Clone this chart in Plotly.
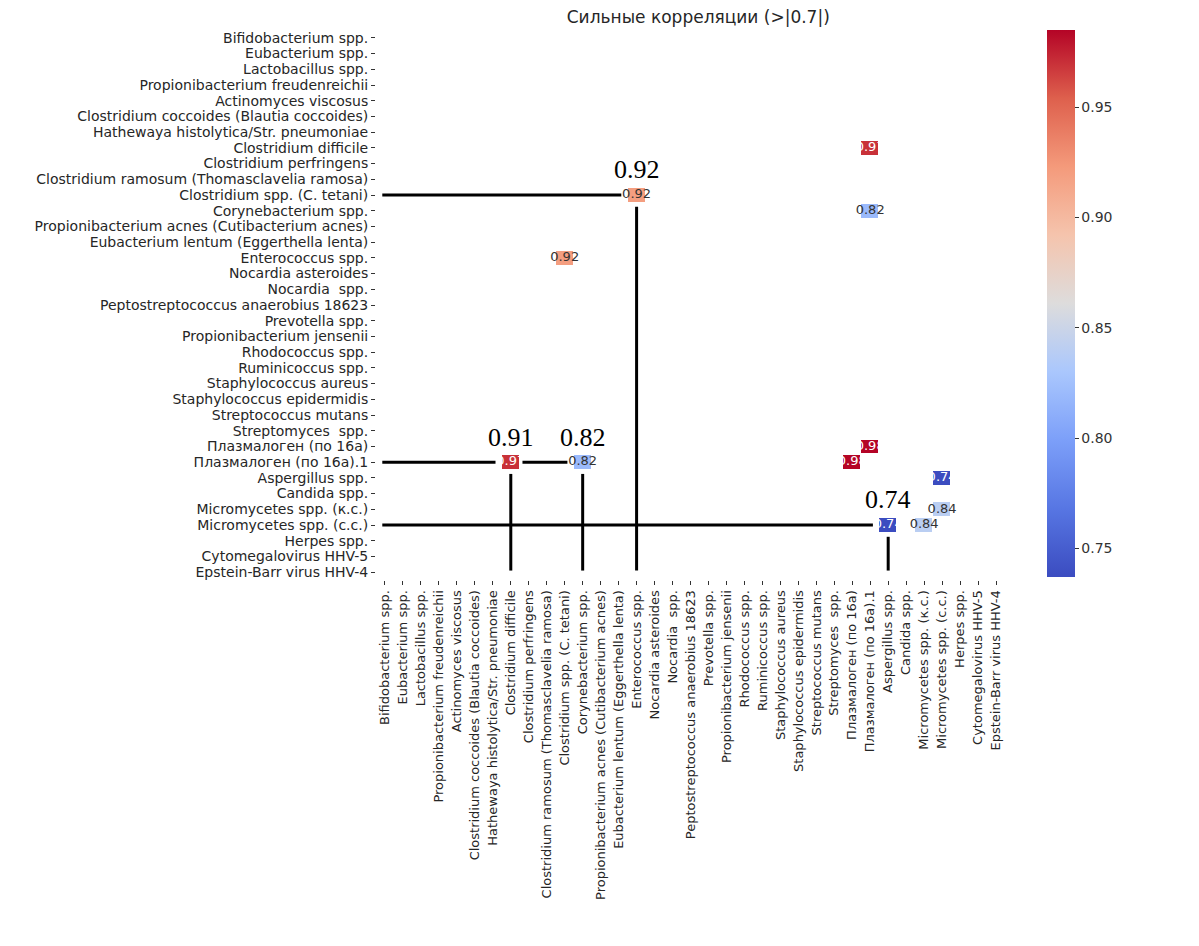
import plotly.graph_objects as go

taxa = [
    "Bifidobacterium spp.", "Eubacterium spp.", "Lactobacillus spp.",
    "Propionibacterium freudenreichii", "Actinomyces viscosus",
    "Clostridium coccoides (Blautia coccoides)", "Hathewaya histolytica/Str. pneumoniae",
    "Clostridium difficile", "Clostridium perfringens",
    "Clostridium ramosum (Thomasclavelia ramosa)", "Clostridium spp. (C. tetani)",
    "Corynebacterium spp.", "Propionibacterium acnes (Cutibacterium acnes)",
    "Eubacterium lentum (Eggerthella lenta)", "Enterococcus spp.",
    "Nocardia asteroides", "Nocardia  spp.", "Peptostreptococcus anaerobius 18623",
    "Prevotella spp.", "Propionibacterium jensenii", "Rhodococcus spp.",
    "Ruminicoccus spp.", "Staphylococcus aureus", "Staphylococcus epidermidis",
    "Streptococcus mutans", "Streptomyces  spp.", "Плазмалоген (по 16а)",
    "Плазмалоген (по 16а).1", "Aspergillus spp.", "Candida spp.",
    "Micromycetes spp. (к.с.)", "Micromycetes spp. (с.с.)", "Herpes spp.",
    "Cytomegalovirus HHV-5", "Epstein-Barr virus HHV-4",
]

# strong pairs (|r| > 0.7)
pair_a = ["Clostridium difficile", "Clostridium spp. (C. tetani)", "Corynebacterium spp.",
          "Плазмалоген (по 16а)", "Aspergillus spp.", "Micromycetes spp. (к.с.)"]
pair_b = ["Плазмалоген (по 16а).1", "Enterococcus spp.", "Плазмалоген (по 16а).1",
          "Плазмалоген (по 16а).1", "Micromycetes spp. (с.с.)", "Micromycetes spp. (с.с.)"]
pair_r = [0.97, 0.92, 0.82, 0.985, 0.737, 0.84]

# hand-drawn callouts on top of the heatmap
callout_row = ["Clostridium spp. (C. tetani)", "Плазмалоген (по 16а).1",
               "Плазмалоген (по 16а).1", "Micromycetes spp. (с.с.)"]
callout_col = ["Enterococcus spp.", "Clostridium difficile",
               "Corynebacterium spp.", "Aspergillus spp."]
callout_text = ["0.92", "0.91", "0.82", "0.74"]

coolwarm = [
    [0.0, "rgb(59,76,192)"], [0.125, "rgb(87,118,227)"], [0.25, "rgb(124,159,249)"],
    [0.375, "rgb(170,199,253)"], [0.5, "rgb(221,220,220)"], [0.625, "rgb(245,196,173)"],
    [0.75, "rgb(244,154,123)"], [0.875, "rgb(222,96,77)"], [1.0, "rgb(180,4,38)"],
]

n = len(taxa)
z = [[None] * n for _ in range(n)]
cell_x, cell_y, cell_txt, cell_col = [], [], [], []
for a, b, r in zip(pair_a, pair_b, pair_r):
    i, j = taxa.index(a), taxa.index(b)
    z[i][j] = r
    z[j][i] = r
    for row, col in ((a, b), (b, a)):
        cell_x.append(col)
        cell_y.append(row)
        cell_txt.append(f"{r:.2f}")
        cell_col.append("white" if (r > 0.95 or r < 0.77) else "#333333")

fig = go.Figure()
fig.add_trace(go.Heatmap(
    z=z, x=taxa, y=taxa,
    colorscale=coolwarm,
    zmin=min(pair_r), zmax=max(pair_r),
    xgap=1, ygap=2,
    hoverongaps=False,
    colorbar=dict(
        x=1.0668, xanchor="left", xpad=0, y=1, yanchor="top", ypad=0,
        len=547, lenmode="pixels", thickness=28,
        outlinewidth=0, ticks="outside", ticklen=4, tickcolor="#333",
        tickvals=[0.75, 0.80, 0.85, 0.90, 0.95], tickformat=".2f",
        tickfont=dict(family="DejaVu Sans", size=14, color="#333"),
    ),
))
fig.add_trace(go.Scatter(
    x=cell_x, y=cell_y, mode="text", text=cell_txt,
    textfont=dict(family="DejaVu Sans", size=13, color=cell_col),
    hoverinfo="skip", showlegend=False,
))

# callout lines and labels
line = dict(color="black", width=3)
last_end = {}
for row, col, txt in zip(callout_row, callout_col, callout_text):
    ri, ci = taxa.index(row), taxa.index(col)
    start = last_end.get(row, -0.15)
    fig.add_shape(type="line", x0=start, x1=ci - 0.85, y0=ri, y1=ri, line=line)
    last_end[row] = ci + 0.65
    fig.add_shape(type="line", x0=ci, x1=ci, y0=ri + 0.75, y1=n - 1.1, line=line)
    fig.add_annotation(x=ci, y=ri - 0.55, yanchor="bottom", text=txt, showarrow=False,
                       font=dict(family="Liberation Serif", size=26, color="black"))

fig.update_layout(
    width=1199, height=946,
    margin=dict(l=368, r=202, t=22, b=374),
    paper_bgcolor="white", plot_bgcolor="white",
    title=dict(text="Сильные корреляции (>|0.7|)", x=0.5757, xanchor="center",
               y=0.9905, yanchor="middle",
               font=dict(family="DejaVu Sans", size=17, color="#262626")),
    xaxis=dict(type="category", categoryorder="array", categoryarray=taxa,
               tickmode="array", tickvals=taxa,
               range=[-0.5, n - 0.5], tickangle=-90, ticks="outside", ticklen=4,
               tickcolor="#333", tickfont=dict(family="DejaVu Sans", size=13, color="#262626"),
               showgrid=False, zeroline=False, showline=False),
    yaxis=dict(type="category", categoryorder="array", categoryarray=taxa,
               tickmode="array", tickvals=taxa,
               range=[n - 0.5, -0.5], ticks="outside", ticklen=4,
               tickcolor="#333", tickfont=dict(family="DejaVu Sans", size=14, color="#262626"),
               showgrid=False, zeroline=False, showline=False),
    showlegend=False,
)

fig.write_html("out.html")
